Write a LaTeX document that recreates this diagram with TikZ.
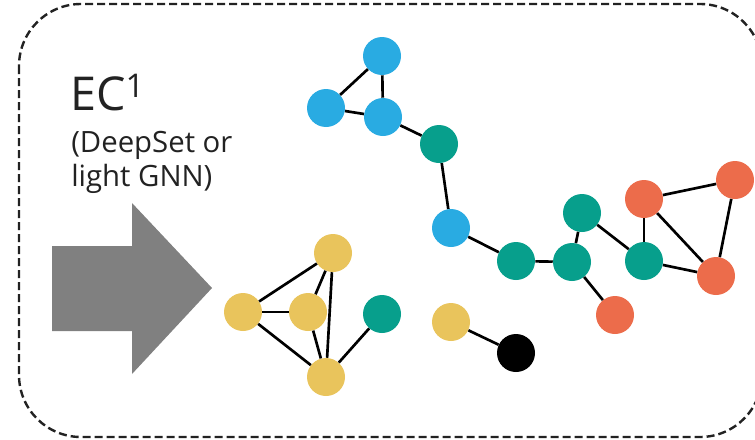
\documentclass[tikz,border=0pt]{standalone}
\usepackage{fontspec}
\setmainfont{Open Sans}
\usepackage{xcolor}
\usepackage{tikz}
\usetikzlibrary{positioning}

\definecolor{ecblue}{HTML}{29ABE2}
\definecolor{ecteal}{HTML}{079F8C}
\definecolor{ecorange}{HTML}{EC6C4B}
\definecolor{ecyellow}{HTML}{E9C45C}
\definecolor{ecgray}{HTML}{808080}
\definecolor{ectext}{HTML}{222222}

\begin{document}
\begin{tikzpicture}[x=0.75pt, y=-0.75pt,
  vertex/.style={circle, inner sep=0pt, minimum size=28.5pt},
  bluev/.style={vertex, fill=ecblue},
  tealv/.style={vertex, fill=ecteal},
  orangev/.style={vertex, fill=ecorange},
  yellowv/.style={vertex, fill=ecyellow},
  blackv/.style={vertex, fill=black},
  edge/.style={line width=2pt, black}]
\useasboundingbox (0,0) rectangle (755,439);
\clip (0,0) rectangle (755,439);

% dashed frame, runs off the right edge
\draw[ectext, line width=1.8pt, dash pattern=on 6pt off 3pt, rounded corners=46.5pt]
  (19,4) rectangle (762,437);

% label and block arrow
\node[anchor=base west, inner sep=0pt, text=ectext, font=\fontsize{35}{40}\selectfont] (ec) at (70,110) {EC\textsuperscript{1}};
\node[anchor=base west, inner sep=0pt, text=ectext, align=left, font=\fontsize{22}{25.5}\selectfont] (sub) at (71,186) {(DeepSet or\\light GNN)};
\fill[ecgray] (52,246) -- (132,246) -- (132,203) -- (212,288) -- (132,374) -- (132,331) -- (52,331) -- cycle;

% vertices
\node[bluev] (b1) at (382,56) {};
\node[bluev] (b2) at (326,108) {};
\node[bluev] (b3) at (383,117) {};
\node[tealv] (t1) at (439,144) {};
\node[bluev] (b4) at (451,228) {};
\node[tealv] (t2) at (516,261) {};
\node[tealv] (t3) at (572,262) {};
\node[tealv] (t4) at (582,213) {};
\node[tealv] (t5) at (644,261) {};
\node[orangev] (o1) at (644,199) {};
\node[orangev] (o2) at (735,180) {};
\node[orangev] (o3) at (716,276) {};
\node[orangev] (o4) at (615,315) {};
\node[yellowv] (y5) at (451,322) {};
\node[blackv] (k) at (516,353) {};
\node[tealv] (t6) at (382,314) {};
\node[yellowv] (y1) at (333,253) {};
\node[yellowv] (y2) at (243,312) {};
\node[yellowv] (y3) at (308,312) {};
\node[yellowv] (y4) at (326,377) {};

% edges
\draw[edge] (b1) -- (b2);
\draw[edge] (b2) -- (b3);
\draw[edge] (b1) -- (b3);
\draw[edge] (b3) -- (t1);
\draw[edge] (t1) -- (b4);
\draw[edge] (b4) -- (t2);
\draw[edge] (t2) -- (t3);
\draw[edge] (t3) -- (t4);
\draw[edge] (t4) -- (t5);
\draw[edge] (t3) -- (o4);
\draw[edge] (t5) -- (o1);
\draw[edge] (t5) -- (o3);
\draw[edge] (o1) -- (o2);
\draw[edge] (o1) -- (o3);
\draw[edge] (o2) -- (o3);
\draw[edge] (y5) -- (k);
\draw[edge] (y2) -- (y1);
\draw[edge] (y2) -- (y3);
\draw[edge] (y2) -- (y4);
\draw[edge] (y1) -- (y3);
\draw[edge] (y1) -- (y4);
\draw[edge] (y3) -- (y4);
\draw[edge] (y4) -- (t6);
\end{tikzpicture}
\end{document}
